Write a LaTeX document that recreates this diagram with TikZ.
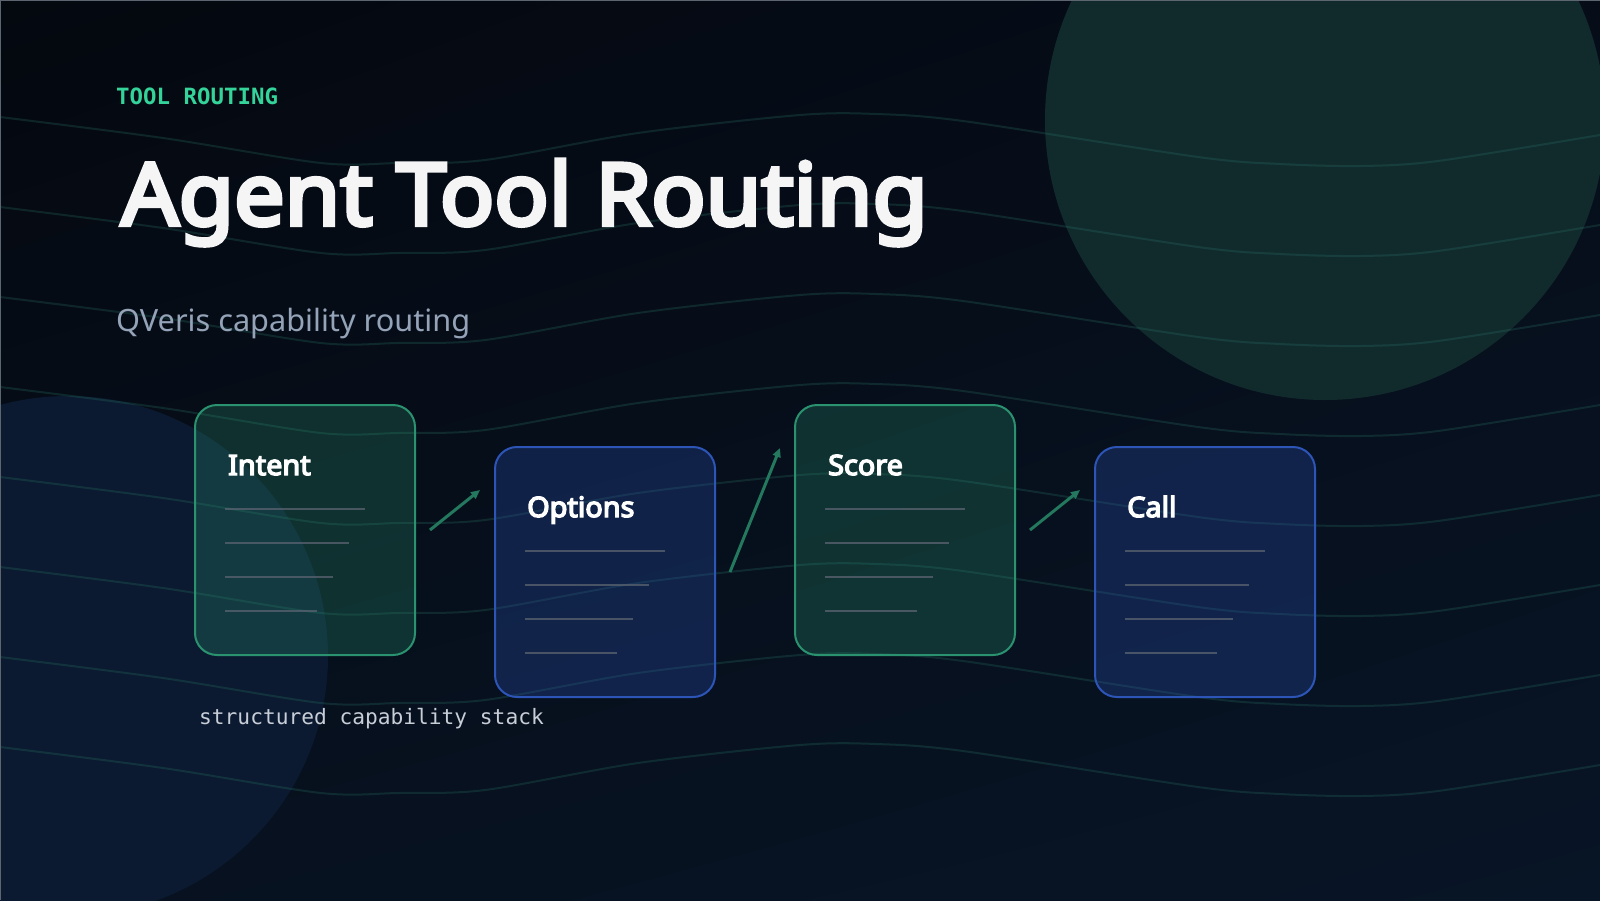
\documentclass[tikz,border=0pt]{standalone}
\usepackage{fontspec}
\usetikzlibrary{calc,arrows.meta,shadings}
\newfontfamily\headfont{Noto Sans}
\newfontfamily\headbold{Noto Sans}[FakeBold=5, FakeStretch=1.03]
\newfontfamily\titlebold{Noto Sans}[FakeBold=5, FakeStretch=1.046]
\newfontfamily\codefont{DejaVu Sans Mono}
\definecolor{bgUL}{HTML}{04080F}
\definecolor{bgUR}{HTML}{060D19}
\definecolor{bgLL}{HTML}{07111F}
\definecolor{bgLR}{HTML}{081526}
\definecolor{orbGreen}{HTML}{112B2D}
\definecolor{orbBlue}{HTML}{0B1A30}
\definecolor{waveCol}{HTML}{2A7A6A}
\definecolor{gLine}{HTML}{2B9270}
\definecolor{gFill}{HTML}{2C9C74}
\definecolor{bLine}{HTML}{2D55B8}
\definecolor{bFill}{HTML}{2A4FB0}
\definecolor{rowCol}{HTML}{56606E}
\definecolor{flowCol}{HTML}{23785D}
\definecolor{tagCol}{HTML}{34D399}
\definecolor{titleCol}{HTML}{F5F5F5}
\definecolor{subCol}{HTML}{94A3B8}
\definecolor{noteCol}{HTML}{C8CED8}
\definecolor{edgeCol}{HTML}{5D6670}
\begin{document}
\begin{tikzpicture}[x=1pt,y=-1pt,
  card/.style={line width=2pt, rounded corners=22pt, minimum width=220pt,
    minimum height=250pt, anchor=north west, inner sep=0pt, outer sep=0pt},
  greencard/.style={card, draw=gLine, fill=gFill, fill opacity=0.25},
  bluecard/.style={card, draw=bLine, fill=bFill, fill opacity=0.3},
  cardtitle/.style={anchor=base west, inner sep=0pt, text=white,
    font=\headbold\fontsize{28}{32}\selectfont},
  row/.style={draw=rowCol, line width=2pt, draw opacity=0.8},
  flow/.style={draw=flowCol, line width=3pt, -{Triangle[length=9pt,width=8pt]}},
  wave/.style={draw=waveCol, line width=2pt, draw opacity=0.25},
  txt/.style={anchor=base west, inner sep=0pt}
]
\useasboundingbox (0,0) rectangle (1600,900);
\clip (0,0) rectangle (1600,900);
\shade[upper left=bgUL, upper right=bgUR, lower left=bgLL, lower right=bgLR]
  (0,0) rectangle (1600,900);
% orbs
\fill[orbGreen] (1325,120) circle[radius=280pt];
\fill[orbBlue] (68,656) circle[radius=260pt];
% waves
\foreach \k in {0,...,7}{
  \pgfmathsetmacro\yz{117+90*\k}
  \draw[wave, shift={(0,\yz)}] plot[smooth] coordinates {(0,0) (163,21) (321,46) (398,46) (485,43) (638,16) (800,-2) (876,-3) (963,4) (1198,40) (1280,47) (1361,49) (1438,44) (1600,18)};
}
% frame edge
\draw[edgeCol, line width=2pt] (0,900) -- (0,0) -- (1600,0);
% texts
\node[txt, text=tagCol, font=\codefont\bfseries\fontsize{22.4}{26}\selectfont] (tag) at (116,104.3) {TOOL ROUTING};
\node[txt, text=titleCol, font=\titlebold\fontsize{86}{96}\selectfont] (title) at (121,225) {Agent Tool Routing};
\node[txt, text=subCol, font=\headfont\fontsize{30.7}{36}\selectfont] (sub) at (116,331.7) {QVeris capability routing};
\node[txt, text=noteCol, font=\codefont\fontsize{21.2}{25}\selectfont] (note) at (199,724) {structured capability stack};
% cards
\node[greencard] (intent) at (195,405) {};
\node[bluecard] (options) at (495,447) {};
\node[greencard] (score) at (795,405) {};
\node[bluecard] (call) at (1095,447) {};
\node[cardtitle] (intentT) at ($(intent.north west)+(33,70)$) {Intent};
\node[cardtitle] (optionsT) at ($(options.north west)+(32,70)$) {Options};
\node[cardtitle] (scoreT) at ($(score.north west)+(33,70)$) {Score};
\node[cardtitle] (callT) at ($(call.north west)+(32,70)$) {Call};
\foreach \c in {intent,options,score,call}{
  \draw[row] ($(\c.north west)+(30,104)$) -- ++(140,0);
  \draw[row] ($(\c.north west)+(30,138)$) -- ++(124,0);
  \draw[row] ($(\c.north west)+(30,172)$) -- ++(108,0);
  \draw[row] ($(\c.north west)+(30,206)$) -- ++(92,0);
}
% connectors
\draw[flow] ($(intent.east)+(15,0)$) -- ($(options.north west)+(-15,43)$);
\draw[flow] ($(options.east)+(15,0)$) -- ($(score.north west)+(-15,43)$);
\draw[flow] ($(score.east)+(15,0)$) -- ($(call.north west)+(-15,43)$);
\end{tikzpicture}
\end{document}
